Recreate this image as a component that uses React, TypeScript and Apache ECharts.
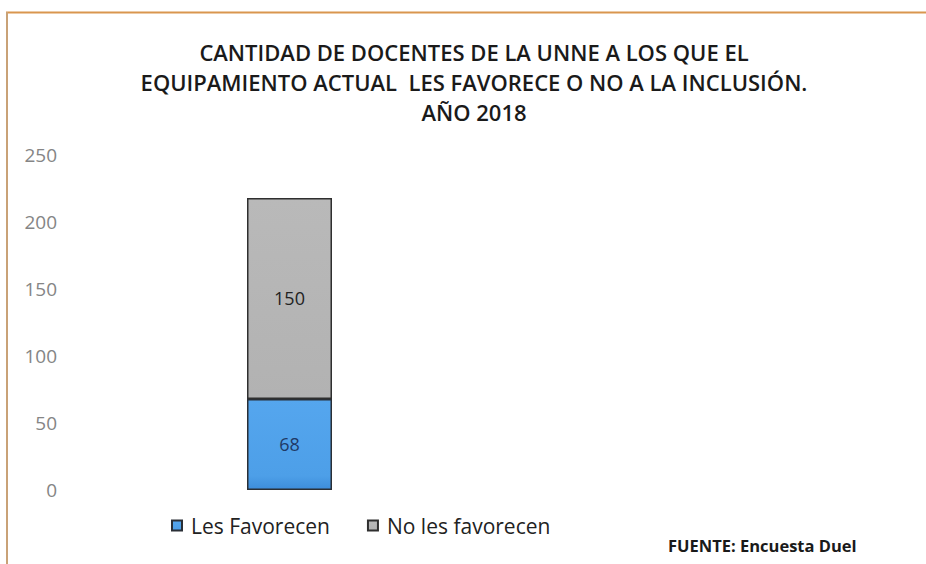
import React, { useEffect, useRef } from 'react';
import * as echarts from 'echarts';

const categories = ['2018'];
const favorecen = [68];
const noFavorecen = [150];
const legendNames = ['Les Favorecen', 'No les favorecen'];
const yMin = 0;
const yMax = 250;
const yStep = 50;
const titleLines = [
  'CANTIDAD DE DOCENTES DE LA UNNE A LOS QUE EL',
  'EQUIPAMIENTO ACTUAL  LES FAVORECE O NO A LA INCLUSIÓN.',
  'AÑO 2018',
];
const sourceText = 'FUENTE: Encuesta Duel';

export default function App() {
  const ref = useRef<HTMLDivElement>(null);
  useEffect(() => {
    document.body.style.margin = '0';
    const chart = echarts.init(ref.current as HTMLDivElement, null, { renderer: 'svg' });
    const font = '"Open Sans", "Noto Sans", sans-serif';
    chart.setOption({
      animation: false,
      backgroundColor: '#ffffff',
      textStyle: { fontFamily: font },
      graphic: [
        {
          type: 'line',
          shape: { x1: 6, y1: 12.5, x2: 926, y2: 12.5 },
          style: { stroke: '#d9964f', lineWidth: 2 },
        },
        {
          type: 'line',
          shape: { x1: 7, y1: 12, x2: 7, y2: 564 },
          style: { stroke: '#c9a277', lineWidth: 2 },
        },
        ...titleLines.map((t, i) => ({
          type: 'text',
          x: 474,
          y: 52 + i * 30,
          style: {
            text: t,
            textAlign: 'center',
            align: 'center',
            textVerticalAlign: 'middle',
            verticalAlign: 'middle',
            font: `600 22px ${font}`,
            fill: '#1a1a1a',
          },
        })),
        {
          type: 'text',
          x: 668,
          y: 545,
          style: {
            text: sourceText,
            textVerticalAlign: 'middle',
            verticalAlign: 'middle',
            font: `700 16.5px ${font}`,
            fill: '#1a1a1a',
          },
        },
      ],
      legend: {
        data: legendNames,
        left: 166,
        top: 510,
        icon: 'rect',
        itemWidth: 10,
        itemHeight: 10,
        itemGap: 37,
        textStyle: { fontSize: 21, color: '#222', fontFamily: font, padding: [0, 0, 0, 4] },
      },
      grid: { left: 65, right: 412, top: 155, bottom: 74, containLabel: false },
      xAxis: {
        type: 'category',
        data: categories,
        axisLine: { show: false },
        axisTick: { show: false },
        axisLabel: { show: false },
      },
      yAxis: {
        type: 'value',
        min: yMin,
        max: yMax,
        interval: yStep,
        axisLine: { show: false },
        axisTick: { show: false },
        splitLine: { show: false },
        axisLabel: { color: '#858585', fontSize: 19, margin: 8, fontFamily: font },
      },
      series: [
        {
          name: legendNames[0],
          type: 'bar',
          stack: 'total',
          data: favorecen,
          barWidth: 85,
          itemStyle: {
            color: new echarts.graphic.LinearGradient(0, 0, 0, 1, [
              { offset: 0, color: '#55a6ee' },
              { offset: 0.85, color: '#4d9fe8' },
              { offset: 1, color: '#3d8ddb' },
            ]),
            borderColor: '#2a2f36',
            borderWidth: 1.5,
          },
          label: {
            show: true,
            position: 'inside',
            color: '#1f3a66',
            fontSize: 18,
            fontFamily: font,
          },
        },
        {
          name: legendNames[1],
          type: 'bar',
          stack: 'total',
          data: noFavorecen,
          barWidth: 85,
          itemStyle: {
            color: new echarts.graphic.LinearGradient(0, 0, 0, 1, [
              { offset: 0, color: '#b9b9b9' },
              { offset: 1, color: '#b2b2b2' },
            ]),
            borderColor: '#2f2f2f',
            borderWidth: 1.5,
          },
          label: {
            show: true,
            position: 'inside',
            color: '#222',
            fontSize: 18,
            fontFamily: font,
          },
        },
      ],
    });
    return () => chart.dispose();
  }, []);
  return <div ref={ref} style={{ width: 926, height: 564 }} />;
}
